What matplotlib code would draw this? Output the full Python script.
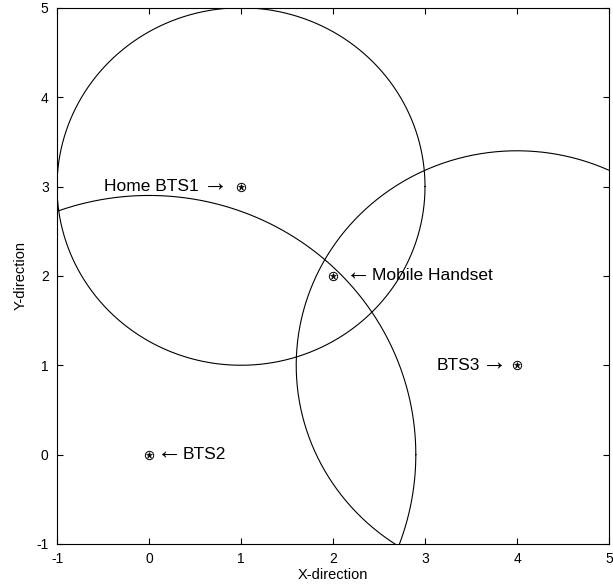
import numpy as np
import matplotlib
matplotlib.use("Agg")
import matplotlib.pyplot as plt

plt.rcParams['font.family'] = ['Liberation Sans', 'DejaVu Sans']
plt.rcParams['axes.unicode_minus'] = False

# Data
station_names = ["Home BTS1", "BTS2", "BTS3"]
station_x = [1, 0, 4]
station_y = [3, 0, 1]
radii = [2.0, 2.9, 2.4]
mobile_name = "Mobile Handset"
mobile_x, mobile_y = 2, 2
ticks = [-1, 0, 1, 2, 3, 4, 5]

fig = plt.figure(figsize=(6.13, 5.86), dpi=100)
ax = fig.add_axes([0.093, 0.0717, 0.9005, 0.915])

theta = np.linspace(0, 2 * np.pi, 721)
for cx, cy, r in zip(station_x, station_y, radii):
    ax.plot(cx + r * np.cos(theta), cy + r * np.sin(theta), color='black', lw=0.8)

allx = station_x + [mobile_x]
ally = station_y + [mobile_y]
ax.plot(allx, ally, 'o', mfc='none', mec='black', ms=6, mew=0.7, ls='none')
ax.plot(allx, ally, '*', color='black', ms=5, mew=0.4, ls='none')

fs = 12.5
afs = 18
ady = 0.035


def label_left(x, y, name, agap, gap):
    # text + arrow placed to the left of the point, arrow pointing right
    ax.text(x - agap, y + ady, "\u2192", ha='right', va='center', fontsize=afs)
    ax.text(x - gap, y, name, ha='right', va='center', fontsize=fs)


def label_right(x, y, name, agap, gap):
    ax.text(x + agap, y + ady, "\u2190", ha='left', va='center', fontsize=afs)
    ax.text(x + gap, y, name, ha='left', va='center', fontsize=fs)


label_left(station_x[0], station_y[0], station_names[0], 0.14, 0.46)
label_right(station_x[1], station_y[1], station_names[1], 0.09, 0.37)
label_left(station_x[2], station_y[2], station_names[2], 0.11, 0.40)
label_right(mobile_x, mobile_y, mobile_name, 0.14, 0.42)

ax.set_xlim(-1, 5)
ax.set_ylim(-1, 5)
ax.set_xticks(ticks)
ax.set_yticks(ticks)
ax.tick_params(direction='in', labelsize=10, length=4, top=True, right=True, pad=6)
ax.set_xlabel("X-direction", fontsize=10.5, labelpad=1)
ax.set_ylabel("Y-direction", fontsize=10.5, labelpad=6)
for s in ax.spines.values():
    s.set_linewidth(0.8)

fig.savefig("out.png", dpi=100)
